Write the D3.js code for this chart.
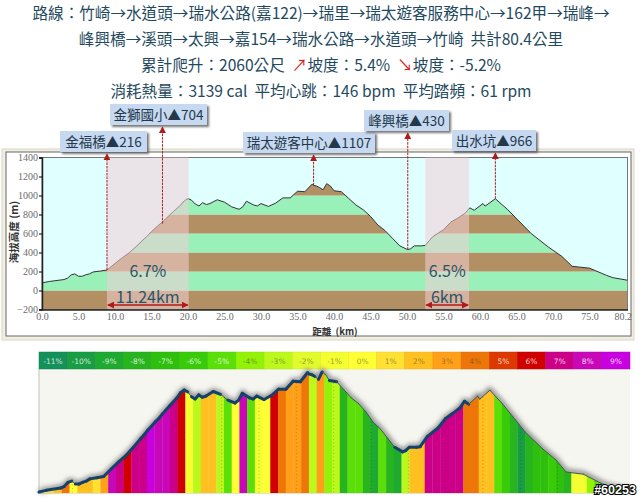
<!DOCTYPE html>
<html>
<head>
<meta charset="utf-8">
<script src="https://cdn.jsdelivr.net/npm/d3@7"></script>
<style>
  html, body { margin: 0; padding: 0; background: #fff; }
  svg { display: block; }
  text { font-family: "Noto Sans CJK TC", "Noto Sans", sans-serif; white-space: pre; }
  .tick text { font-family: "Liberation Serif", serif; fill: #6a6a6a; font-size: 10px; }
</style>
</head>
<body>
<div id="canvas"></div>
<script>

// route summary lines, the arrows of line three are picked out in red
var titleLines = [
  ['路線：竹崎→水道頭→瑞水公路(嘉122)→瑞里→瑞太遊客服務中心→162甲→瑞峰→'],
  ['峰興橋→溪頭→太興→嘉154→瑞水公路→水道頭→竹崎  共計80.4公里'],
  ['累計爬升：2060公尺  ', '↗', '坡度：5.4%  ', '↘', '坡度：-5.2%'],
  ['消耗熱量：3139 cal  平均心跳：146 bpm  平均踏頻：61 rpm']
];

// elevation profile
var distance = [0, 1, 3, 3.5, 4, 4.5, 5, 5.5, 6, 6.5, 7, 8, 8.9, 10, 11, 12, 13, 14, 14.4, 15, 16, 16.5, 17, 18, 19, 19.5, 20,
  20.5, 21, 21.5, 22, 22.5, 23, 24, 25, 26, 27, 27.5, 28, 29, 29.5, 30, 31, 32, 33, 34, 35, 36, 37, 37.2, 37.6, 38, 38.5, 39, 39.5, 40,
  41, 42, 43, 44, 45, 46, 47, 48, 49, 50.1, 50.5, 51, 52, 52.5, 53.5, 55, 56, 57, 58, 58.6, 59.2, 60.4, 60.7, 62.1,
  63.8, 65.6, 67, 69.4, 71.2, 72.6, 75, 77.3, 78.2, 80.2];
var elevation = [80, 95, 115, 130, 165, 175, 150, 150, 165, 175, 195, 205, 216, 285, 345, 400, 470, 545, 572, 620, 690, 720, 760, 830, 900, 945, 968,
  950, 910, 890, 925, 905, 915, 955, 930, 880, 855, 880, 940, 900, 890, 915, 885, 920, 975, 975, 1045, 1040, 1120, 1107, 1100, 1085, 1060, 1125, 1100, 1050,
  1040, 970, 900, 850, 780, 690, 630, 550, 470, 430, 440, 470, 470, 475, 565, 640, 720, 765, 815, 870, 845, 915, 888, 966,
  850, 710, 600, 455, 360, 255, 235, 160, 135, 108];

// callouts
var peakNames = ['金福橋', '金獅國小', '瑞太遊客中心', '峰興橋', '出水坑'];
var peakKm = [8.9, 16.5, 37.2, 50.1, 62.1];
var peakElev = [216, 704, 1107, 430, 966];
var peakBoxX = [60, 110, 243, 364, 452];
var peakBoxY = [131, 104, 132, 110, 130];
var peakBoxW = [87, 97, 132, 85, 84];

// climbs
var climbStart = [8.9, 52.5];
var climbEnd = [20.1, 58.5];
var climbGrade = ['6.7%', '6.5%'];
var climbLength = ['11.24km', '6km'];

// slope legend
var slopeValues = d3.range(-11, 10);
var slopeColors = ['#14905a', '#189c44', '#1eaa30', '#28b41e', '#2ec00c', '#38cc08', '#5ae008', '#92f208', '#bcf81c', '#e0fc2c', '#f4fe30',
  '#ffff33', '#ffe033', '#ffc020', '#ffa018', '#ee7608', '#dc3800', '#d00000', '#cc0088', '#c808b8', '#c800e0'];

// slope of every strip of the lower chart, left to right
var stripSlopes = [0, 1, 2, 4, 0, 2, 2, 1, 3, 8, 7, 6, 7, 7, 9, 8, 8, 7, 6, -1, -3, 2, 2, -3, -5, 0, 8, -5, -1, 0, 6, 4, 3, 3, 4, -3, 3, -4,
  -3, -8, -5, -5, -8, -9, -5, -8, -9, -3, 2, 2, 7, 7, 7, 7, 7, 4, 4, 2, 2, -5, -6, -8, -10, -8, -7, -7, -6, -7, -8, -1, -1, -4, -5, -6, -6, -6, -7];

var yTicks = d3.range(-200, 1401, 200);
var xTicks = d3.range(0, 80, 5).concat([80.2]);
var gridKm = d3.range(4.6, 80, 5.14);

var svg = d3.select('#canvas').append('svg').attr('width', 640).attr('height', 498);
var defs = svg.append('defs');

var blur = defs.append('filter').attr('id', 'soft').attr('x', '-20%').attr('y', '-20%').attr('width', '140%').attr('height', '140%');
blur.append('feGaussianBlur').attr('stdDeviation', 2.5);

var boxShadow = defs.append('filter').attr('id', 'boxShadow').attr('x', '-10%').attr('y', '-20%').attr('width', '125%').attr('height', '150%');
boxShadow.append('feDropShadow').attr('dx', 2).attr('dy', 2).attr('stdDeviation', 1).attr('flood-color', '#555').attr('flood-opacity', 0.8);

defs.append('marker').attr('id', 'headRed').attr('viewBox', '0 0 8 8').attr('refX', 7).attr('refY', 4)
  .attr('markerWidth', 7).attr('markerHeight', 7).attr('markerUnits', 'userSpaceOnUse').attr('orient', 'auto-start-reverse')
  .append('path').attr('d', 'M0,0L8,4L0,8Z').attr('fill', '#b01a1a');

// summary text
var titles = svg.selectAll('text.title').data(titleLines).enter().append('text')
  .attr('class', 'title')
  .attr('x', 321)
  .attr('y', function(d, i) { return 18.5 + i * 26; })
  .attr('text-anchor', 'middle')
  .attr('font-size', 15.6)
  .attr('fill', '#1f4a60');
titles.selectAll('tspan').data(function(d) { return d; }).enter().append('tspan')
  .attr('fill', function(d) { return (d === '↗' || d === '↘') ? '#d81e1e' : null; })
  .text(function(d) { return d; });

// upper chart frame
svg.append('rect').attr('x', 2).attr('y', 149).attr('width', 632).attr('height', 191).attr('fill', '#f0efe2').attr('stroke', '#d8d6c8');
svg.append('rect').attr('x', 6).attr('y', 152).attr('width', 625).attr('height', 184).attr('fill', '#fff').attr('stroke', '#666');

var x = d3.scaleLinear().domain([0, 80.2]).range([42, 627.5]);
var y = d3.scaleLinear().domain([-200, 1400]).range([309.5, 157.5]);

svg.append('rect').attr('x', x(0)).attr('y', y(1400)).attr('width', x(80.2) - x(0)).attr('height', y(-200) - y(1400))
  .attr('fill', '#e0ffff').attr('stroke', '#555').attr('stroke-width', 0.8);

// striped ground under the profile
var profile = distance.map(function(d, i) { return [d, elevation[i]]; });
var area = d3.area().x(function(d) { return x(d[0]); }).y0(y(-200)).y1(function(d) { return y(d[1]); });
defs.append('clipPath').attr('id', 'ground').append('path').attr('d', area(profile));

var stripes = d3.range(-200, 1400, 200);
svg.append('g').attr('clip-path', 'url(#ground)').selectAll('rect').data(stripes).enter().append('rect')
  .attr('x', x(0))
  .attr('width', x(80.2) - x(0))
  .attr('y', function(d) { return y(d + 200); })
  .attr('height', function(d) { return y(d) - y(d + 200); })
  .attr('fill', function(d) { return ((d + 200) / 200) % 2 === 0 ? '#b39063' : '#99f0b8'; });

svg.append('path').attr('d', d3.line().x(function(d) { return x(d[0]); }).y(function(d) { return y(d[1]); })(profile))
  .attr('fill', 'none').attr('stroke', '#333').attr('stroke-width', 1);

// climb highlights
svg.selectAll('rect.climb').data(climbStart).enter().append('rect')
  .attr('class', 'climb')
  .attr('x', function(d) { return x(d); })
  .attr('width', function(d, i) { return x(climbEnd[i]) - x(d); })
  .attr('y', y(1400))
  .attr('height', y(-200) - y(1400))
  .attr('fill', 'rgb(243,206,214)')
  .attr('fill-opacity', 0.55);

// axes
var yAxis = d3.axisLeft(y).tickValues(yTicks).tickSize(3).tickPadding(1).tickFormat(d3.format('d'));
var xAxis = d3.axisBottom(x).tickValues(xTicks).tickSize(0).tickPadding(3).tickFormat(d3.format('.1f'));
var yG = svg.append('g').attr('transform', 'translate(' + x(0) + ',0)').call(yAxis);
var xG = svg.append('g').attr('transform', 'translate(0,' + y(-200) + ')').call(xAxis);
yG.select('.domain').attr('stroke', '#222').attr('stroke-width', 1.5);
xG.select('.domain').attr('stroke', '#222').attr('stroke-width', 1.5);
xG.selectAll('.tick text').filter(function(d) { return d === 80.2; }).attr('text-anchor', 'end').attr('dx', 4);

svg.append('text').attr('transform', 'translate(18,232) rotate(-90)').attr('text-anchor', 'middle')
  .attr('font-size', 10.5).attr('font-weight', 'bold').attr('fill', '#333').text('海拔高度 (m)');
svg.append('text').attr('x', 335).attr('y', 334.5).attr('text-anchor', 'middle')
  .attr('font-size', 9.5).attr('font-weight', 'bold').attr('fill', '#333').text('距離  (km)');

// climb labels
climbStart.forEach(function(d, i) {
  var mid = (x(d) + x(climbEnd[i])) / 2;
  svg.append('text').attr('x', mid).attr('y', 277).attr('text-anchor', 'middle').attr('font-size', 16).attr('fill', '#24566a').text(climbGrade[i]);
  svg.append('text').attr('x', mid).attr('y', 303).attr('text-anchor', 'middle').attr('font-size', 16).attr('fill', '#24566a').text(climbLength[i]);
  svg.append('line').attr('x1', x(d) + 1).attr('x2', x(climbEnd[i]) - 1).attr('y1', 305).attr('y2', 305)
    .attr('stroke', '#b01a1a').attr('stroke-width', 1.5)
    .attr('marker-start', 'url(#headRed)').attr('marker-end', 'url(#headRed)');
});

// callouts with dashed leaders
peakNames.forEach(function(name, i) {
  var px = x(peakKm[i]);
  var top = peakBoxY[i] + 23;
  svg.append('line').attr('x1', px).attr('x2', px).attr('y1', y(peakElev[i])).attr('y2', top)
    .attr('stroke', '#b01a1a').attr('stroke-width', 1).attr('stroke-dasharray', '2.5,1')
    .attr('marker-end', 'url(#headRed)');
  svg.append('rect').attr('x', peakBoxX[i]).attr('y', peakBoxY[i]).attr('width', peakBoxW[i]).attr('height', 21)
    .attr('fill', '#c6d9f0').attr('filter', 'url(#boxShadow)');
  svg.append('text').attr('x', peakBoxX[i] + peakBoxW[i] / 2).attr('y', peakBoxY[i] + 15.5)
    .attr('text-anchor', 'middle').attr('font-size', 13.5).attr('fill', '#23384a')
    .text(name + '▲' + peakElev[i]);
});

// lower chart
var plotLeft = 39, plotRight = 630, plotTop = 369, plotBottom = 493;
var legendX = d3.scaleBand().domain(slopeValues).range([plotLeft, plotRight]);
var color = d3.scaleOrdinal().domain(slopeValues).range(slopeColors);
var x2 = d3.scaleLinear().domain([0, 81.4]).range([plotLeft, plotRight]);
var y2 = d3.scaleLinear().domain([72, 968]).range([plotBottom, 390]);
var stripX = d3.scaleBand().domain(d3.range(stripSlopes.length)).range([38.7, 38.7 + 7.72 * stripSlopes.length]);

svg.append('rect').attr('x', plotLeft).attr('y', plotTop).attr('width', plotRight - plotLeft).attr('height', plotBottom - plotTop)
  .attr('fill', '#f6f6f1');
svg.append('path').attr('d', 'M' + plotLeft + ',' + plotTop + 'V' + plotBottom + 'H' + plotRight)
  .attr('fill', 'none').attr('stroke', '#c4c4ba');

// legend cells
var cells = svg.selectAll('g.cell').data(slopeValues).enter().append('g').attr('class', 'cell')
  .attr('transform', function(d) { return 'translate(' + legendX(d) + ',352)'; });
cells.append('rect').attr('width', legendX.bandwidth()).attr('height', 17)
  .attr('fill', function(d) { return color(d); })
  .attr('stroke', function(d) { return d3.color(color(d)).darker(0.25); }).attr('stroke-width', 0.5);
cells.append('text').attr('x', legendX.bandwidth() / 2).attr('y', 12).attr('text-anchor', 'middle')
  .style('font-family', '"DejaVu Sans"').attr('font-size', 7.5)
  .attr('fill', function(d) { return (d >= -4 && d <= 4) ? 'rgba(70,70,40,.55)' : 'rgba(255,255,255,.8)'; })
  .text(function(d) { return d + '%'; });

// profile tail runs on under the watermark
var profile2 = profile.concat([[81.4, 100]]);
var area2 = d3.area().x(function(d) { return x2(d[0]); }).y0(plotBottom).y1(function(d) { return y2(d[1]); });
var line2 = d3.line().x(function(d) { return x2(d[0]); }).y(function(d) { return y2(d[1]); });

svg.append('path').attr('d', line2(profile2)).attr('fill', 'none').attr('stroke', '#777').attr('stroke-width', 4)
  .attr('filter', 'url(#soft)').attr('transform', 'translate(0,-1)');

defs.append('clipPath').attr('id', 'ground2').append('path').attr('d', area2(profile2));
var ground2 = svg.append('g').attr('clip-path', 'url(#ground2)');
ground2.selectAll('rect').data(stripSlopes).enter().append('rect')
  .attr('x', function(d, i) { return stripX(i); })
  .attr('width', stripX.bandwidth() + 0.3)
  .attr('y', plotTop)
  .attr('height', plotBottom - plotTop)
  .attr('fill', function(d) { return color(d); });
ground2.selectAll('line').data(gridKm).enter().append('line')
  .attr('x1', function(d) { return x2(d); })
  .attr('x2', function(d) { return x2(d); })
  .attr('y1', plotTop)
  .attr('y2', plotBottom)
  .attr('stroke', 'rgba(0,0,0,.22)')
  .attr('stroke-dasharray', '1,2.5');

// ridge line: heavy where climbing or level, hairline on the long descents
d3.pairs(profile2).forEach(function(pair) {
  var grade = (pair[1][1] - pair[0][1]) / ((pair[1][0] - pair[0][0]) * 1000);
  var climbing = grade > -0.045 && pair[0][0] < 58.7;
  svg.append('path').attr('d', line2(pair)).attr('fill', 'none')
    .attr('stroke', climbing ? '#16416b' : '#3c5a50')
    .attr('stroke-width', climbing ? 3 : 1)
    .attr('stroke-linecap', 'round');
});

// watermark
svg.append('text').attr('x', 615).attr('y', 494).attr('text-anchor', 'middle')
  .style('font-family', '"Liberation Sans"').attr('font-size', 12.5).attr('font-weight', 'bold')
  .attr('fill', '#fff').attr('stroke', '#000').attr('stroke-width', 2).attr('paint-order', 'stroke')
  .text('#60253');

</script>
</body>
</html>
